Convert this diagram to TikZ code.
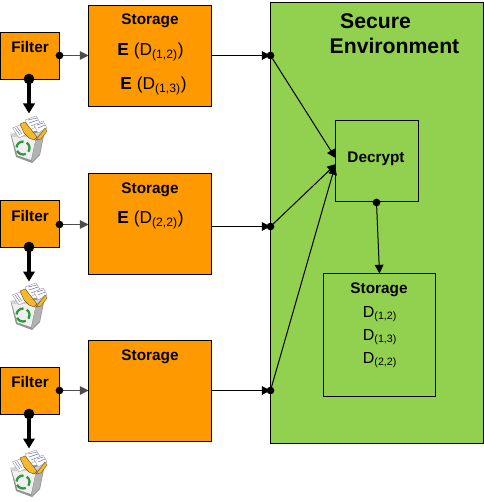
\documentclass[tikz,border=0pt]{standalone}
\usepackage{fontspec}
\setmainfont{Liberation Sans}
\usetikzlibrary{arrows.meta}
\definecolor{boxorange}{HTML}{FF9900}
\definecolor{secgreen}{HTML}{92D050}
\definecolor{recycle}{HTML}{2E9A3C}
\definecolor{folder}{HTML}{F5B82E}
\tikzset{
  x=0.75pt,y=-0.75pt,
  box/.style={draw=black,line width=0.75pt,inner sep=0pt,outer sep=0pt,anchor=north west},
  filterbox/.style={box,fill=boxorange,minimum width=44.25pt,minimum height=35pt},
  storebox/.style={box,fill=boxorange,minimum width=92.6pt,minimum height=76pt},
  title/.style={font=\bfseries\fontsize{11.5}{13}\selectfont,inner sep=0pt},
  big/.style={font=\bfseries\fontsize{15.9}{18}\selectfont,inner sep=0pt},
  enc/.style={font=\fontsize{13}{15}\selectfont,inner sep=0pt},
  plain/.style={font=\fontsize{12}{14}\selectfont,inner sep=0pt},
  thin arrow/.style={draw=black,line width=0.75pt,-{Triangle[length=6.5pt,width=6.5pt]}},
  thick arrow/.style={draw=black,line width=2.8pt,-{Triangle[length=7.5pt,width=8.5pt]}},
  smalldot/.style={circle,fill=black,inner sep=0pt,outer sep=0pt,minimum size=5.8pt},
  bigdot/.style={circle,fill=black,inner sep=0pt,outer sep=0pt,minimum size=8pt},
  sheet/.style={fill=white,draw=gray!80,line width=0.3pt},
  sheetline/.style={draw=blue!40!gray,line width=0.25pt},
  fold/.style={fill=folder,draw=black!55!folder,line width=0.3pt},
  rec/.style={draw=recycle,line width=1.7pt},
  bin/.pic={
    % body
    \fill[gray!85] (10.5,134) -- (45,130) -- (40,155) -- (32,163) -- (16,157) -- cycle;
    \fill[white!88!gray] (12,137) -- (36,137) -- (31,160) -- (17.5,155.5) -- cycle;
    \fill[gray!60] (36,137) -- (44,132) -- (39.5,154) -- (31.5,162) -- cycle;
    \fill[gray!35] (10.5,134) -- (12,137) -- (36,137) -- (45,130) -- (36,133) -- cycle;
    % contents
    \fill[sheet] (12.5,128) -- (20,125) -- (27,134) -- (19,138) -- cycle;
    \draw[sheetline] (15,128) -- (20,135) (17,127) -- (22,134);
    \fill[sheet] (25,120) -- (36,116) -- (41,124) -- (30,130) -- cycle;
    \draw[sheetline] (28,120) -- (37,118) (29,123) -- (38,120) (31,126) -- (39,123);
    \fill[sheet] (34,125) -- (43,121) -- (47,128) -- (38,133) -- cycle;
    \draw[sheetline] (37,125) -- (43,123) (38,128) -- (45,125);
    \fill[fold] (20,124) -- (25,122) -- (30,128) -- (37,137) -- (34,140) -- (29,138) -- (24,133) -- cycle;
    \fill[fold] (36,140) -- (45,128) -- (47,131) -- (41,139) -- cycle;
    % recycle mark
    \begin{scope}[shift={(23,148)},x=0.75pt,y=0.75pt]
      \draw[rec] (175:6.5) arc[start angle=175,end angle=85,radius=6.5];
      \draw[rec] (55:6.5) arc[start angle=55,end angle=-35,radius=6.5];
      \draw[rec] (-65:6.5) arc[start angle=-65,end angle=-155,radius=6.5];
    \end{scope}
  }
}
\begin{document}
\begin{tikzpicture}
\useasboundingbox (0,0) rectangle (483,502);
% secure environment
\node[box,fill=secgreen,minimum width=159.4pt,minimum height=330.6pt] (env) at (270.5,2.5) {};
\node[big] (sec) at (375.5,21.5) {Secure};
\node[big] (envt) at (394.5,46) {Environment};
\node[box,minimum width=62.25pt,minimum height=61.1pt] (dec) at (335.5,120.5) {};
\node[title] (dect) at (376,159) {Decrypt};
\node[box,minimum width=84pt,minimum height=92.25pt] (sin) at (323.5,273.5) {};
\node[title] (sint) at (379,289.5) {Storage};
\node[plain] (d1) at (380,314) {D\textsubscript{(1,2)}};
\node[plain] (d2) at (380,337) {D\textsubscript{(1,3)}};
\node[plain] (d3) at (380,360) {D\textsubscript{(2,2)}};
% row 1
\node[filterbox] (f1) at (0.5,32.5) {};
\node[title] (f1t) at (30,47.5) {Filter};
\node[storebox] (s1) at (88.5,5.5) {};
\node[title] (s1t) at (150,20.5) {Storage};
\node[enc] (e1) at (150.5,52) {\textbf{E} (D\textsubscript{(1,2)})};
\node[enc] (e2) at (153.5,86) {\textbf{E} (D\textsubscript{(1,3)})};
% row 2
\node[filterbox] (f2) at (0.5,200.5) {};
\node[title] (f2t) at (30,216) {Filter};
\node[storebox] (s2) at (88.5,173.5) {};
\node[title] (s2t) at (150,189.5) {Storage};
\node[enc] (e3) at (150.5,220) {\textbf{E} (D\textsubscript{(2,2)})};
% row 3
\node[filterbox] (f3) at (0.5,367.5) {};
\node[title] (f3t) at (30,382.5) {Filter};
\node[storebox] (s3) at (88.5,340.5) {};
\node[title] (s3t) at (150,356.5) {Storage};
% bins
\pic at (0,0) {bin};
\pic at (0,167) {bin};
\pic at (0,334) {bin};
% anchors
\foreach \n/\y/\z in {1/55.5/55.5,2/224.5/226.5,3/390.5/390.5}{
  \coordinate (fo\n) at (59.5,\y);
  \coordinate (si\n) at (88.5,\y);
  \coordinate (so\n) at (212,\z);
  \coordinate (ei\n) at (270.5,\z);
}
\coordinate (fb1) at (29,79);
\coordinate (fb2) at (29,247);
\coordinate (fb3) at (29,414);
\coordinate (t1) at (29,113.5);
\coordinate (t2) at (29,281.5);
\coordinate (t3) at (29,448.5);
\coordinate (di1) at (335.5,158);
\coordinate (di2) at (336,164);
\coordinate (di3) at (335,166);
\coordinate (dout) at (376.5,202.5);
\foreach \n in {1,2,3}{
  \draw[thin arrow,draw=black!70] (fo\n) -- (si\n);
  \draw[thin arrow] (so\n) -- (ei\n);
  \draw[thick arrow] (fb\n) -- (t\n);
  \node[smalldot] (dfo\n) at (fo\n) {};
  \node[smalldot] (dei\n) at (ei\n) {};
  \node[bigdot] (dfb\n) at (fb\n) {};
}
\draw[thin arrow] (dei1) -- (di1);
\draw[thin arrow] (dei2) -- (di2);
\draw[thin arrow] (dei3) -- (di3);
\draw[thin arrow] (dout) -- (sin.north);
\node[smalldot] (ddec) at (dout) {};
\end{tikzpicture}
\end{document}
